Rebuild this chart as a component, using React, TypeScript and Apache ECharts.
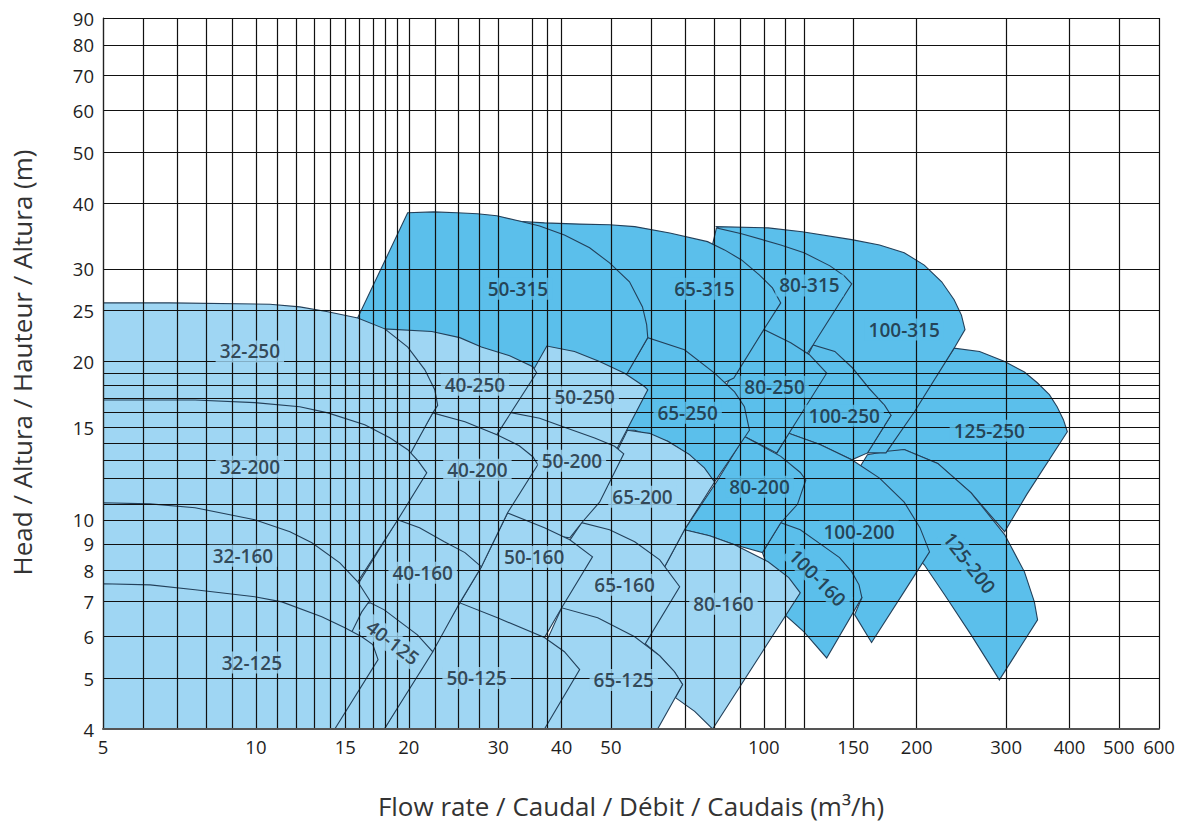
import React, { useEffect, useRef } from "react";
import * as echarts from "echarts";

// Axis grid and tick labels (flow m3/h, head m)
const xGridValues = [5, 6, 7, 8, 9, 10, 11, 12, 13, 14, 15, 16, 17, 18, 19, 20, 22.5, 25, 27.5, 30, 35, 37.5, 40, 50, 60, 70, 80, 90, 100, 110, 120, 150, 200, 300, 400, 500, 600];
const xTickLabels = [5, 10, 15, 20, 30, 40, 50, 100, 150, 200, 300, 400, 500, 600];
const yGridValues = [4, 5, 6, 7, 8, 9, 10, 10.7, 12, 13, 14, 15, 16, 17, 18, 19, 20, 25, 30, 40, 50, 60, 70, 80, 90];
const yTickLabels = [4, 5, 6, 7, 8, 9, 10, 15, 20, 25, 30, 40, 50, 60, 70, 80, 90];

// Region outlines: [flow m3/h, head m]
const p125_250 = [[174, 13.4], [237, 21.2], [266, 20.9], [298, 20.0], [326, 19.1], [346, 18.2], [365, 17.3], [378, 16.4], [389, 15.5], [396, 14.7], [330, 11.2], [298, 9.49], [256, 11.25], [220, 12.8], [189, 13.6]];
const p125_200 = [[141, 10.9], [160, 13.3], [175, 13.5], [189, 13.6], [220, 12.8], [256, 11.25], [298, 9.37], [326, 7.96], [341, 6.98], [346, 6.45], [291, 4.96], [256, 6.04], [227, 7.2], [207, 8.21], [185, 9.16]];
const p100_315 = [[112, 27.4], [80.7, 36.1], [102, 35.9], [119, 35.3], [149, 34.1], [169, 33.3], [189, 32.2], [207, 30.5], [224, 28.35], [237, 26.2], [245, 24.5], [249, 23.0], [237, 21.2], [198, 16.05], [174, 13.4], [160, 13.4], [178, 15.8], [175, 16.0], [161, 17.8], [149, 19.5], [125, 21.5], [118, 23.0]];
const p100_250 = [[103, 14.8], [125, 21.5], [138, 20.9], [149, 19.5], [161, 17.8], [173, 16.5], [178, 15.8], [160, 13.4], [149, 13.0], [129, 13.9], [112, 14.6]];
const p100_200 = [[98.1, 11.8], [112, 14.6], [129, 13.9], [149, 13.0], [169, 12.0], [189, 10.8], [203, 9.66], [212, 8.69], [189, 7.3], [163, 5.84], [151, 6.6], [156, 7.11], [149, 7.96], [130, 8.96], [108, 9.87]];
const p100_160 = [[99.4, 8.66], [108, 9.87], [118, 9.57], [130, 8.96], [141, 8.47], [149, 7.96], [154, 7.52], [156, 7.11], [133, 5.46], [120, 6.12], [110, 6.6]];
const p80_315 = [[74.7, 26.2], [80.7, 35.9], [90.4, 35.0], [108, 33.3], [120, 32.2], [135, 30.4], [144, 29.1], [149, 28.1], [125, 21.5], [120, 20.3], [113, 21.05], [100, 22.2], [89.6, 23.0]];
const p80_250 = [[84.5, 18.1], [100, 23.0], [113, 21.7], [123, 20.6], [133, 19.0], [106, 13.4], [91.6, 14.4], [87.6, 15.5]];
const p80_200 = [[69.8, 9.57], [80.7, 11.8], [91.6, 14.4], [108, 13.2], [118, 12.3], [121, 11.9], [116.5, 10.7], [108, 9.87], [99.4, 8.66], [87.6, 8.96], [78.2, 9.32]];
const p80_160 = [[67, 4.59], [69.2, 4.86], [66.7, 5.14], [62.4, 5.51], [55.7, 6.04], [54.4, 7.05], [63.8, 8.14], [69.8, 9.57], [78.2, 9.32], [87.6, 8.96], [102, 8.32], [112, 7.76], [118, 7.26], [79.3, 4], [73.1, 4.32]];
const p65_315 = [[39.6, 23.0], [32.3, 37.0], [37, 36.7], [43.4, 36.5], [49.7, 36.4], [55.7, 36.1], [65.3, 35.1], [77.5, 33.8], [83.7, 32.6], [90.4, 31.2], [98.1, 29.2], [104, 27.6], [108, 25.85], [100, 23.0], [87.3, 18.6], [74.7, 17.3], [59.1, 19.3], [47.5, 22.0]];
const p65_250 = [[47.5, 15.5], [59.1, 22.2], [69.8, 21.05], [80, 19.0], [87.6, 17.5], [91.6, 16.4], [93.7, 14.8], [80, 11.8], [71.4, 13.3], [64.7, 14.1], [55.7, 14.8], [49.7, 14.8]];
const p65_200 = [[43.8, 9.87], [53.9, 14.8], [59.6, 14.6], [64.7, 14.1], [71.4, 13.3], [76.4, 12.55], [80, 11.8], [69.8, 9.57], [63.8, 8.14], [57, 8.39], [47.5, 9.16]];
const p65_160 = [[37.9, 8.03], [43.8, 9.87], [49.7, 9.57], [55.7, 9.08], [62.4, 8.39], [68.3, 7.46], [58.3, 5.79], [52, 5.91], [45.4, 6.32], [40, 6.6]];
const p65_125 = [[31.2, 4], [40, 6.8], [47.1, 6.51], [55.7, 5.99], [62.4, 5.51], [66.7, 5.14], [69.2, 4.86], [61.8, 4]];
const p50_315 = [[15.8, 24.0], [19.9, 38.35], [22.4, 38.5], [24.9, 38.35], [27.3, 38.2], [29.8, 37.85], [33, 37.0], [36.2, 36.2], [40.5, 34.8], [45.4, 32.9], [49.7, 30.8], [54.4, 28.35], [57.7, 25.4], [58.8, 23.5], [59.1, 22.2], [53.2, 18.6], [43.4, 18.3], [36.2, 18.6], [27.6, 20.0], [19.2, 21.5], [15.8, 23.5]];
const p50_250 = [[29.8, 14.5], [37.4, 21.4], [42.4, 20.9], [47.5, 20.0], [53.2, 19.0], [58.3, 17.9], [59.1, 17.67], [53.7, 14.8], [51.3, 13.6], [39.6, 14.2], [30.9, 15.2]];
const p50_200 = [[27.6, 12.7], [31.6, 16.0], [36.2, 15.6], [40.5, 15.0], [46.45, 14.3], [50.85, 13.8], [53, 13.35], [47.5, 10.8], [43.8, 9.87], [41.5, 9.24], [37, 9.37], [31.3, 9.78], [28.9, 10.9]];
const p50_160 = [[25.2, 6.95], [27.8, 8.14], [31.3, 10.3], [37, 9.66], [41.5, 9.16], [46, 8.5], [40, 6.8], [37, 5.97], [30.2, 6.32], [25.2, 6.74]];
const p50_125 = [[17.9, 4], [25.2, 6.95], [29.9, 6.51], [37, 5.97], [40.5, 5.61], [43.4, 5.19], [37, 4]];
const p40_250 = [[21, 14.2], [17.5, 22.0], [17.9, 23.07], [22.2, 22.8], [25.2, 22.2], [27.8, 21.3], [31.6, 20.5], [35.1, 19.54], [35.7, 19.04], [29.8, 14.5], [26.4, 15.16], [22.3, 15.97]];
const p40_200 = [[19.2, 12.45], [22.3, 15.97], [25.8, 15.36], [29.9, 14.5], [33, 13.83], [35.1, 13.18], [35.9, 12.72], [31.3, 10.31], [27.8, 8.14], [23.5, 8.39], [19, 9.16]];
const p40_160 = [[14, 6.18], [19, 10], [21, 9.66], [23.5, 9.08], [25.8, 8.66], [27.8, 8.14], [25.2, 6.95], [22.3, 5.61], [20.8, 5.91], [19, 6.32], [16.8, 6.74], [14.6, 5.91]];
const p40_125 = [[12.2, 4], [15.3, 6.89], [16.8, 6.95], [17.9, 6.74], [19, 6.45], [20.8, 6.04], [22.3, 5.61], [17.9, 4]];
const p32_250 = [[5, 16.2], [5, 25.85], [6.77, 25.85], [10.66, 25.7], [12.2, 25.4], [13.86, 24.86], [15.87, 24.2], [17.94, 23.07], [19.91, 21.3], [21.5, 19.3], [22.5, 17.67], [22.8, 16.5], [22.3, 15.97], [20.1, 13.3]];
const p32_200 = [[5, 8.39], [5, 16.9], [7.59, 16.9], [9.95, 16.7], [12.2, 16.4], [13.86, 15.97], [16.38, 15.16], [18.35, 14.32], [19.91, 13.59], [20.84, 12.95], [21.7, 12.28], [19.03, 10], [15.87, 7.62], [14.63, 7.36]];
const p32_160 = [[5, 7.05], [5, 10.77], [6.19, 10.72], [7.59, 10.54], [9.95, 10], [11.67, 9.49], [12.89, 9.04], [14.63, 8.28], [15.87, 7.62], [16.76, 7.02], [16.16, 6.68], [15.45, 6.12], [14.63, 5.91]];
const p32_125 = [[5, 4], [5, 7.556], [6.19, 7.52], [7.59, 7.36], [9.95, 7.14], [11.25, 6.98], [13.48, 6.54], [14.97, 6.23], [16.16, 5.99], [16.99, 5.79], [17.4, 5.42], [14.3, 4]];

// Drawing order: right columns first, upper rows first
const regions: { name: string; tone: "dark" | "light"; outline: number[][] }[] = [
  { name: "125-250", tone: "dark", outline: p125_250 },
  { name: "125-200", tone: "dark", outline: p125_200 },
  { name: "100-315", tone: "dark", outline: p100_315 },
  { name: "100-250", tone: "dark", outline: p100_250 },
  { name: "100-200", tone: "dark", outline: p100_200 },
  { name: "100-160", tone: "dark", outline: p100_160 },
  { name: "80-315", tone: "dark", outline: p80_315 },
  { name: "80-250", tone: "dark", outline: p80_250 },
  { name: "80-200", tone: "dark", outline: p80_200 },
  { name: "80-160", tone: "light", outline: p80_160 },
  { name: "65-315", tone: "dark", outline: p65_315 },
  { name: "65-250", tone: "dark", outline: p65_250 },
  { name: "65-200", tone: "light", outline: p65_200 },
  { name: "65-160", tone: "light", outline: p65_160 },
  { name: "65-125", tone: "light", outline: p65_125 },
  { name: "50-315", tone: "dark", outline: p50_315 },
  { name: "50-250", tone: "light", outline: p50_250 },
  { name: "50-200", tone: "light", outline: p50_200 },
  { name: "50-160", tone: "light", outline: p50_160 },
  { name: "50-125", tone: "light", outline: p50_125 },
  { name: "40-250", tone: "light", outline: p40_250 },
  { name: "40-200", tone: "light", outline: p40_200 },
  { name: "40-160", tone: "light", outline: p40_160 },
  { name: "40-125", tone: "light", outline: p40_125 },
  { name: "32-250", tone: "light", outline: p32_250 },
  { name: "32-200", tone: "light", outline: p32_200 },
  { name: "32-160", tone: "light", outline: p32_160 },
  { name: "32-125", tone: "light", outline: p32_125 },
];

// Region labels
const labelNames = ["50-315", "65-315", "80-315", "100-315", "32-250", "40-250", "50-250", "65-250", "80-250", "100-250", "125-250", "32-200", "40-200", "50-200", "65-200", "80-200", "100-200", "125-200", "32-160", "40-160", "50-160", "65-160", "80-160", "100-160", "32-125", "40-125", "50-125", "65-125"];
const labelFlow = [32.8, 76.4, 123, 189, 9.73, 27, 44.4, 70.8, 105, 144, 278, 9.73, 27.3, 41.9, 57.7, 98.1, 154, 254, 9.43, 21.3, 35.3, 53.2, 83.3, 127.6, 9.82, 18.6, 27.2, 53];
const labelHead = [27.5, 27.5, 27.9, 23.0, 20.9, 18.06, 17.1, 15.97, 17.9, 15.77, 14.76, 12.61, 12.45, 12.95, 11.06, 11.55, 9.49, 8.28, 8.54, 7.93, 8.5, 7.52, 6.92, 7.76, 5.35, 5.84, 5.0, 4.96];
const labelAngle = [0, 0, 0, 0, 0, 0, 0, 0, 0, 0, 0, 0, 0, 0, 0, 0, 0, -52, 0, 0, 0, 0, 0, -45, 0, -37, 0, 0];

const LIGHT = "#9fd6f3";
const DARK = "#5bbfeb";
const EDGE = "#23405a";
const FONT = "'Open Sans', 'DejaVu Sans', sans-serif";

export default function App() {
  const ref = useRef<HTMLDivElement>(null);
  useEffect(() => {
    if (!ref.current) return;
    const chart = echarts.init(ref.current, undefined, { renderer: "svg" });
    const lg = (v: number) => Math.log10(v);
    const fmt = (v: number) => String(Math.round(Math.pow(10, v) * 10) / 10);
    const toneOf = (n: string) => {
      const r = regions.find((g) => g.name === n);
      return r && r.tone === "dark" ? DARK : LIGHT;
    };
    chart.setOption({
      animation: false,
      backgroundColor: "#ffffff",
      textStyle: { fontFamily: FONT },
      grid: { left: 103, right: 20, top: 18, bottom: 96, containLabel: false, outerBoundsMode: "none" },
      xAxis: {
        type: "value",
        min: lg(5),
        max: lg(600),
        z: 5,
        name: "Flow rate / Caudal / Débit / Caudais (m³/h)",
        nameLocation: "middle",
        nameGap: 64,
        nameTextStyle: { fontSize: 26, color: "#333", fontFamily: FONT },
        axisLine: { show: true, lineStyle: { color: "#555", width: 2 } },
        axisTick: { show: false, customValues: xGridValues.map(lg) },
        axisLabel: { customValues: xTickLabels.map(lg), formatter: fmt, fontSize: 18.5, color: "#1e1e1e", margin: 8, hideOverlap: false, fontFamily: FONT },
        splitLine: { show: true, lineStyle: { color: "#111", width: 1.2 } },
      },
      yAxis: {
        type: "value",
        min: lg(4),
        max: lg(90),
        z: 5,
        name: "Head / Altura / Hauteur / Altura (m)",
        nameLocation: "middle",
        nameGap: 68,
        nameTextStyle: { fontSize: 26, color: "#333", fontFamily: FONT, padding: [0, 0, 0, 22] },
        axisLine: { show: true, lineStyle: { color: "#222", width: 1.2 } },
        axisTick: { show: false, customValues: yGridValues.map(lg) },
        axisLabel: { customValues: yTickLabels.map(lg), formatter: fmt, fontSize: 18.5, color: "#1e1e1e", margin: 9, hideOverlap: false, fontFamily: FONT },
        splitLine: { show: true, lineStyle: { color: "#111", width: 1.2 } },
      },
      series: [
        {
          type: "custom",
          z: 2,
          clip: true,
          silent: true,
          data: regions.map((r) => [lg(r.outline[0][0]), lg(r.outline[0][1])]),
          renderItem: (params: any, api: any) => {
            const r = regions[params.dataIndex];
            const points = r.outline.map((p) => api.coord([lg(p[0]), lg(p[1])]));
            return {
              type: "polygon",
              shape: { points },
              style: { fill: r.tone === "dark" ? DARK : LIGHT, stroke: EDGE, lineWidth: 1.1 },
            };
          },
        },
        {
          type: "scatter",
          z: 10,
          silent: true,
          symbolSize: 1,
          itemStyle: { color: "rgba(0,0,0,0)" },
          labelLayout: { hideOverlap: false },
          label: {
            show: true,
            position: "inside",
            formatter: "{b}",
            color: "#16232f",
            fontSize: 19,
            fontWeight: 600,
            fontFamily: FONT,
            padding: [0, 4],
            lineHeight: 22,
          },
          data: labelNames.map((n, i) => ({
            name: n,
            value: [lg(labelFlow[i]), lg(labelHead[i])],
            label: { rotate: labelAngle[i], backgroundColor: toneOf(n) },
          })),
        },
      ],
    });
    return () => chart.dispose();
  }, []);
  return <div ref={ref} style={{ position: "fixed", left: 0, top: 0, width: 1179, height: 825 }} />;
}
